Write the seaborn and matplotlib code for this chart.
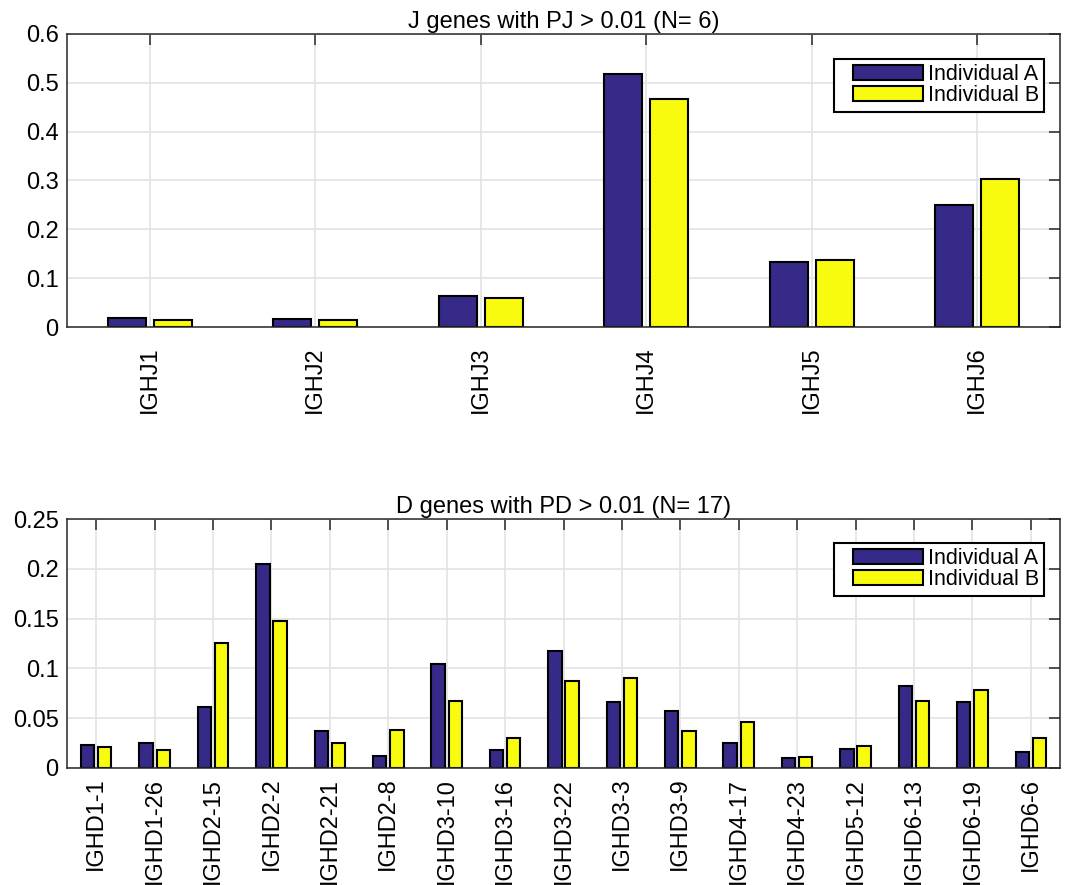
import matplotlib
matplotlib.use("Agg")
import matplotlib.pyplot as plt
import seaborn as sns
import pandas as pd
from matplotlib.ticker import FuncFormatter, MultipleLocator
from matplotlib.legend_handler import HandlerPatch
from matplotlib.patches import Rectangle

# ---- data ----
j_genes = ["IGHJ1", "IGHJ2", "IGHJ3", "IGHJ4", "IGHJ5", "IGHJ6"]
j_ind_a = [0.018, 0.017, 0.064, 0.518, 0.134, 0.249]
j_ind_b = [0.015, 0.014, 0.059, 0.466, 0.138, 0.304]

d_genes = ["IGHD1-1", "IGHD1-26", "IGHD2-15", "IGHD2-2", "IGHD2-21", "IGHD2-8",
           "IGHD3-10", "IGHD3-16", "IGHD3-22", "IGHD3-3", "IGHD3-9", "IGHD4-17",
           "IGHD4-23", "IGHD5-12", "IGHD6-13", "IGHD6-19", "IGHD6-6"]
d_ind_a = [0.0235, 0.025, 0.061, 0.2045, 0.037, 0.012, 0.104, 0.0185, 0.1177,
           0.066, 0.057, 0.025, 0.010, 0.019, 0.0825, 0.066, 0.016]
d_ind_b = [0.021, 0.0178, 0.126, 0.1476, 0.025, 0.038, 0.067, 0.030, 0.087,
           0.0905, 0.037, 0.046, 0.011, 0.022, 0.067, 0.078, 0.030]

series_names = ["Individual A", "Individual B"]
colors = ["#352A87", "#F9FB0E"]

FONT = "Liberation Sans"
FS = 17
LFS = 15.5

sns.set_theme(style="white")
plt.rcParams["font.family"] = [FONT, "DejaVu Sans"]


def long_df(genes, a, b):
    return pd.DataFrame({
        "gene": genes * 2,
        "value": list(a) + list(b),
        "ind": [series_names[0]] * len(genes) + [series_names[1]] * len(genes),
    })


def legend_patch(legend, orig_handle, xdescent, ydescent, width, height, fontsize):
    off = 10
    return Rectangle((-xdescent + off, -ydescent), width - off, height)


fig = plt.figure(figsize=(10.68, 8.85), dpi=100)
W, H = 1068, 885
ax1 = fig.add_axes([67 / W, 1 - 327 / H, 993 / W, (327 - 34) / H])
ax2 = fig.add_axes([67 / W, 1 - 768 / H, 993 / W, (768 - 519) / H])

gfmt = FuncFormatter(lambda v, p: "%g" % round(v, 4))


def draw(ax, genes, a, b, width, gap, ymax, ystep, title, xpad, legend_y):
    df = long_df(genes, a, b)
    sns.barplot(data=df, x="gene", y="value", hue="ind", order=genes,
                hue_order=series_names, palette=colors, width=width, gap=gap,
                edgecolor="black", linewidth=1.5, saturation=1, ax=ax,
                legend=True)
    n = len(genes)
    ax.set_xlim(-0.5, n - 0.5)
    ax.set_ylim(0, ymax)
    ax.yaxis.set_major_locator(MultipleLocator(ystep))
    ax.yaxis.set_major_formatter(gfmt)
    ax.set_xlabel("")
    ax.set_ylabel("")
    ax.set_title(title, fontsize=FS, pad=4, color="black")
    ax.set_axisbelow(True)
    ax.grid(True, color="#e3e3e3", linewidth=1.2)
    for s in ax.spines.values():
        s.set_color("#262626")
        s.set_linewidth(1.1)
        s.set_visible(True)
    ax.tick_params(axis="both", direction="in", length=8, width=1.1,
                   color="#262626", top=True, right=True, labelsize=FS,
                   labelcolor="black")
    ax.tick_params(axis="y", pad=6)
    ax.tick_params(axis="x", pad=xpad, labelrotation=90)
    for lab in ax.get_xticklabels():
        lab.set_rotation(90)
        lab.set_va("top")
        lab.set_ha("center")
    handles, labels = ax.get_legend_handles_labels()
    hmap = {h: HandlerPatch(patch_func=legend_patch) for h in handles}
    leg = ax.legend(handles, labels, handler_map=hmap,
                    loc="upper right", bbox_to_anchor=(0.984, legend_y),
                    fontsize=LFS, frameon=True, fancybox=False, framealpha=1,
                    edgecolor="black", handlelength=3.9, handleheight=0.68,
                    handletextpad=0.2, labelspacing=0.0, borderpad=0.25,
                    borderaxespad=0.0)
    leg.get_frame().set_linewidth(1.5)
    for t in leg.get_texts():
        t.set_color("black")


draw(ax1, j_genes, j_ind_a, j_ind_b, 0.56, 0.18, 0.6, 0.1,
     "J genes with PJ > 0.01 (N= 6)", 14, 1 - (59 - 34) / (327 - 34))
draw(ax2, d_genes, d_ind_a, d_ind_b, 0.588, 0.22, 0.25, 0.05,
     "D genes with PD > 0.01 (N= 17)", 7, 1 - (543 - 519) / (768 - 519))

fig.savefig("out.png", dpi=100, facecolor="white")
